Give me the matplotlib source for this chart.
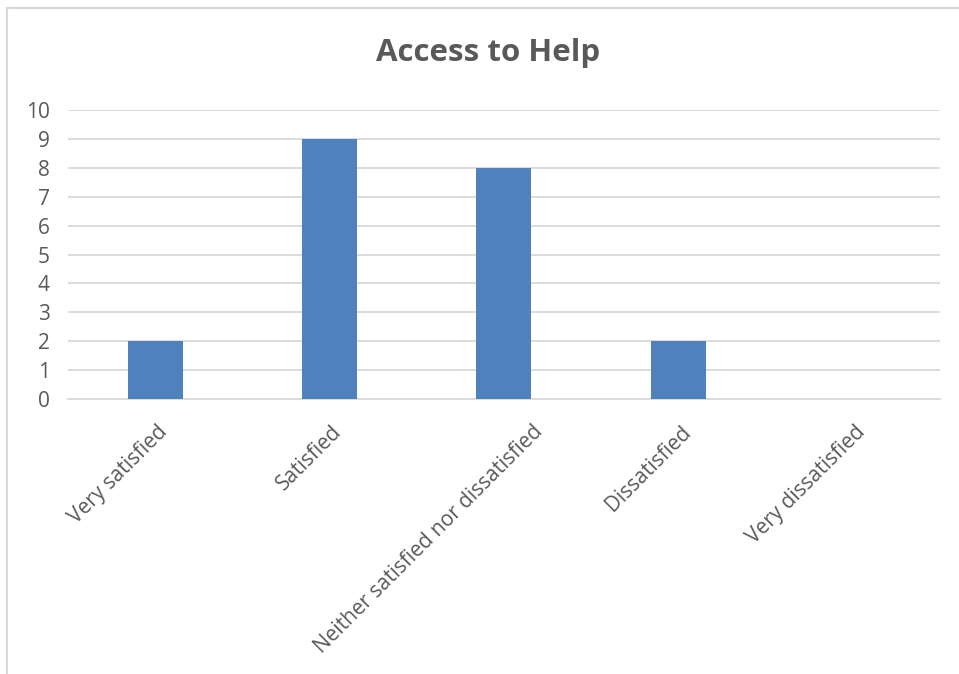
import matplotlib.pyplot as plt
from matplotlib.patches import Rectangle
import matplotlib.transforms as mtransforms

categories = ['Very satisfied', 'Satisfied', 'Neither satisfied nor dissatisfied',
              'Dissatisfied', 'Very dissatisfied']
counts = [2, 9, 8, 2, 0]
y_ticks = list(range(0, 11))

plt.rcParams['font.family'] = ['Open Sans', 'DejaVu Sans']
text_color = '#595959'
grid_color = '#D9D9D9'

fig = plt.figure(figsize=(9.59, 6.74), dpi=100)
ax = fig.add_axes([0.0709, 0.408, 0.9091, 0.4288])

x = range(len(categories))
ax.bar(x, counts, width=0.315, color='#4F81BD', zorder=3)

ax.set_xlim(-0.5, len(categories) - 0.5)
ax.set_ylim(0, 10)
ax.set_yticks(y_ticks)
ax.set_yticklabels([str(v) for v in y_ticks], fontsize=15, color=text_color)
ax.yaxis.grid(True, color=grid_color, linewidth=1.3, zorder=0)
ax.tick_params(axis='y', length=0, pad=13)
ax.tick_params(axis='x', length=0, pad=4)

ax.set_xticks(list(x))
ax.set_xticklabels(categories, rotation=45, ha='right', rotation_mode='anchor',
                   fontsize=15, color=text_color)
# Excel pushes the longest label a bit further right
for lbl in ax.get_xticklabels():
    dx = 28 if len(lbl.get_text()) > 20 else 2
    offset = mtransforms.ScaledTranslation(dx / 100, -17 / 100, fig.dpi_scale_trans)
    lbl.set_transform(lbl.get_transform() + offset)

for side in ['top', 'right', 'left']:
    ax.spines[side].set_visible(False)
ax.spines['bottom'].set_color(grid_color)
ax.spines['bottom'].set_linewidth(1.3)

fig.text(0.509, 0.922, 'Access to Help', ha='center', va='center',
         fontsize=22.5, fontweight='bold', color=text_color)

# outer chart border (only left and top visible in the reference)
fig.patches.append(Rectangle((7 / 959, -0.05), 1.1, 1 - 8 / 674 + 0.05,
                             transform=fig.transFigure, fill=False,
                             edgecolor='#D9D9D9', linewidth=1.5))

fig.savefig('out.png', dpi=100)
